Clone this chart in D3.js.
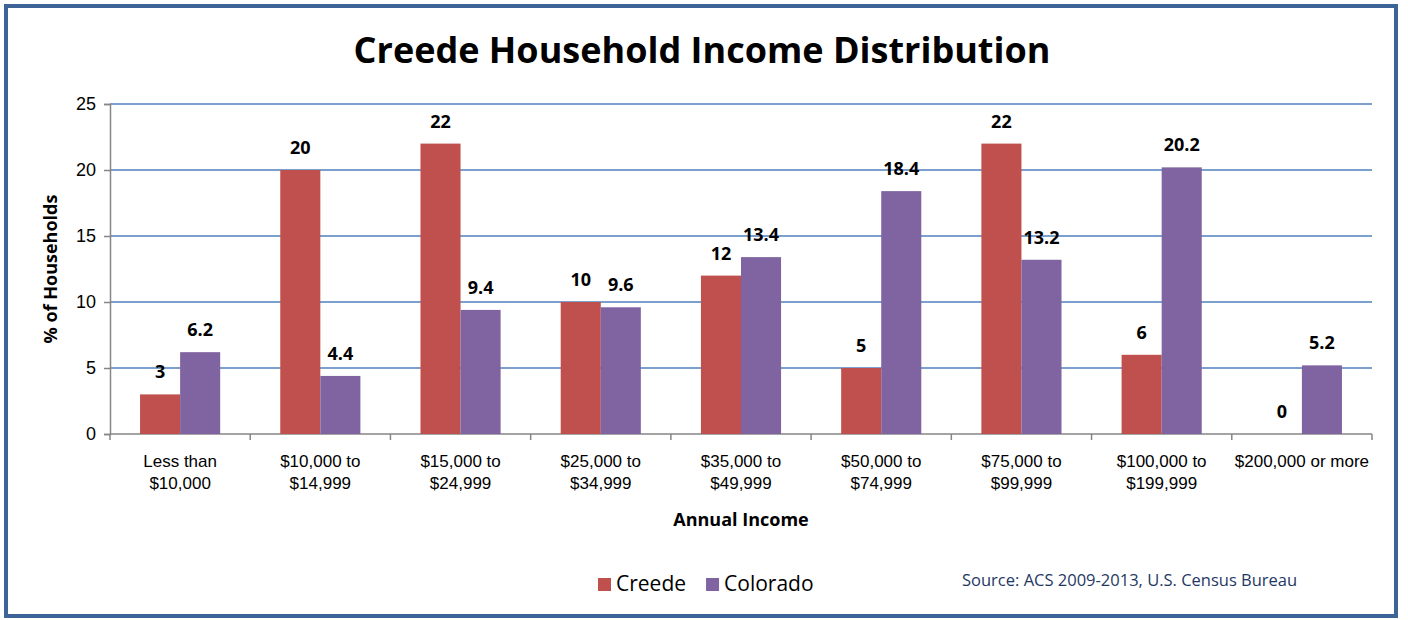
<!DOCTYPE html>
<html>
<head>
<meta charset="utf-8">
<script src="https://d3js.org/d3.v7.min.js"></script>
<style>
  body { margin: 0; background: #fff; }
  svg text { font-family: "Liberation Sans", Arial, sans-serif; }
</style>
</head>
<body>
<div id="chart"></div>
<script>
// chart data
var categories = ["Less than|$10,000", "$10,000 to|$14,999", "$15,000 to|$24,999", "$25,000 to|$34,999",
                  "$35,000 to|$49,999", "$50,000 to|$74,999", "$75,000 to|$99,999", "$100,000 to|$199,999",
                  "$200,000 or more"];
var creede   = [3, 20, 22, 10, 12, 5, 22, 6, 0];
var colorado = [6.2, 4.4, 9.4, 9.6, 13.4, 18.4, 13.2, 20.2, 5.2];
var seriesNames = ["Creede", "Colorado"];
var yTicks = [0, 5, 10, 15, 20, 25];

var colors = ["#C0504D", "#8064A2"];
var W = 1408, H = 620;
var plot = {left: 110, right: 1372, top: 104, bottom: 434};

var svg = d3.select("#chart").append("svg")
  .attr("width", W).attr("height", H);

// outer frame
svg.append("rect")
  .attr("x", 6).attr("y", 6).attr("width", 1390).attr("height", 610)
  .attr("fill", "#fff").attr("stroke", "#3C6496").attr("stroke-width", 4);

var x = d3.scaleBand()
  .domain(d3.range(categories.length))
  .range([plot.left, plot.right])
  .paddingInner(0).paddingOuter(0);

var x1 = d3.scaleBand()
  .domain([0, 1])
  .range([0, x.bandwidth()])
  .paddingOuter(0.75).paddingInner(0);

var y = d3.scaleLinear().domain([0, 25]).range([plot.bottom, plot.top]);

// gridlines
svg.append("g")
  .selectAll("line")
  .data(yTicks.slice(1))
  .enter().append("line")
    .attr("x1", plot.left).attr("x2", plot.right)
    .attr("y1", function(d) { return y(d); })
    .attr("y2", function(d) { return y(d); })
    .attr("stroke", "#4F81BD").attr("stroke-width", 1.3);

// y axis
var yAxis = svg.append("g")
  .attr("transform", "translate(" + plot.left + ",0)")
  .call(d3.axisLeft(y).tickValues(yTicks).tickSize(6).tickPadding(8));
yAxis.select(".domain").attr("stroke", "#868686").attr("stroke-width", 1.5);
yAxis.selectAll(".tick line").attr("stroke", "#868686").attr("stroke-width", 1.5);
yAxis.selectAll(".tick text").attr("font-size", 18).attr("fill", "#000")
  .attr("font-family", "Liberation Sans, Arial, sans-serif");

// x axis
var xAxis = svg.append("g")
  .attr("transform", "translate(0," + plot.bottom + ")");
xAxis.append("line")
  .attr("x1", plot.left).attr("x2", plot.right)
  .attr("stroke", "#868686").attr("stroke-width", 1.5);
xAxis.selectAll("line.tk")
  .data(d3.range(categories.length + 1))
  .enter().append("line").attr("class", "tk")
    .attr("x1", function(d) { return plot.left + d * x.bandwidth(); })
    .attr("x2", function(d) { return plot.left + d * x.bandwidth(); })
    .attr("y1", 0).attr("y2", 6)
    .attr("stroke", "#868686").attr("stroke-width", 1.5);

var xl = xAxis.selectAll("text.cat")
  .data(categories)
  .enter().append("text").attr("class", "cat")
    .attr("text-anchor", "middle")
    .attr("font-size", 17)
    .attr("transform", function(d, i) { return "translate(" + (x(i) + x.bandwidth() / 2) + ",33)"; });
xl.selectAll("tspan")
  .data(function(d) { return d.split("|"); })
  .enter().append("tspan")
    .attr("x", 0)
    .attr("dy", function(d, i) { return i === 0 ? 0 : 22; })
    .text(function(d) { return d; });

// bars
var series = [creede, colorado];
series.forEach(function(vals, s) {
  svg.append("g")
    .selectAll("rect")
    .data(vals)
    .enter().append("rect")
      .attr("x", function(d, i) { return x(i) + x1(s); })
      .attr("y", function(d) { return y(d); })
      .attr("width", x1.bandwidth())
      .attr("height", function(d) { return plot.bottom - y(d); })
      .attr("fill", colors[s]);

  svg.append("g")
    .selectAll("text")
    .data(vals)
    .enter().append("text")
      .attr("x", function(d, i) { return x(i) + x1(s) + x1.bandwidth() / 2; })
      .attr("y", function(d) { return y(d) - 16; })
      .attr("text-anchor", "middle")
      .attr("font-size", 18)
      .attr("font-weight", "bold")
      .style("font-family", "'Open Sans', 'DejaVu Sans', sans-serif")
      .text(function(d) { return d; });
});

// title
svg.append("text")
  .attr("x", 702).attr("y", 63)
  .attr("text-anchor", "middle")
  .attr("font-size", 36)
  .attr("font-weight", "bold")
  .style("font-family", "'Open Sans', sans-serif")
  .text("Creede Household Income Distribution");

// axis titles
svg.append("text")
  .attr("transform", "translate(57," + ((plot.top + plot.bottom) / 2) + ") rotate(-90)")
  .attr("text-anchor", "middle")
  .attr("font-size", 18)
  .attr("font-weight", "bold")
  .style("font-family", "'Open Sans', sans-serif")
  .text("% of Households");

svg.append("text")
  .attr("x", (plot.left + plot.right) / 2).attr("y", 526)
  .attr("text-anchor", "middle")
  .attr("font-size", 18)
  .attr("font-weight", "bold")
  .style("font-family", "'Open Sans', sans-serif")
  .text("Annual Income");

// legend
var legend = svg.append("g").attr("transform", "translate(598,578)");
var lxPos = 0;
seriesNames.forEach(function(name, i) {
  legend.append("rect")
    .attr("x", lxPos).attr("y", 0).attr("width", 13).attr("height", 13)
    .attr("fill", colors[i]);
  var t = legend.append("text")
    .attr("x", lxPos + 18).attr("y", 13)
    .attr("font-size", 21)
    .style("font-family", "'Open Sans', sans-serif")
    .text(name);
  lxPos += 18 + t.node().getComputedTextLength() + 20;
});

// source
svg.append("text")
  .attr("x", 962).attr("y", 586)
  .attr("font-size", 16.5)
  .attr("fill", "#1F3864")
  .style("font-family", "'Open Sans', sans-serif")
  .text("Source: ACS 2009-2013, U.S. Census Bureau");
</script>
</body>
</html>
